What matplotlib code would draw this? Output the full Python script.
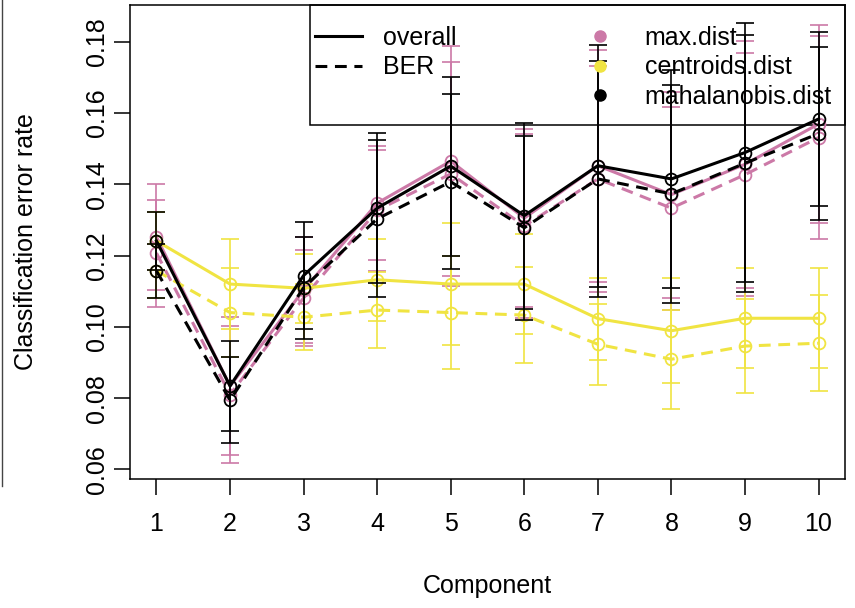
### perf plot: classification error rate per component

import matplotlib.pyplot as plt
from matplotlib.lines import Line2D
from matplotlib.patches import Rectangle

plt.rcParams['font.family'] = ['Liberation Sans', 'DejaVu Sans']
plt.rcParams['lines.scale_dashes'] = False

comps = [1, 2, 3, 4, 5, 6, 7, 8, 9, 10]

# max.dist
max_overall = [0.1252, 0.0834, 0.1103, 0.1347, 0.1465, 0.1305, 0.1452, 0.1371, 0.1456, 0.1569]
max_overall_sd = [0.0149, 0.0194, 0.0148, 0.0159, 0.0323, 0.0250, 0.0325, 0.0289, 0.0347, 0.0278]
max_ber = [0.1207, 0.0810, 0.1081, 0.1327, 0.1429, 0.1283, 0.1415, 0.1333, 0.1427, 0.1531]
max_ber_sd = [0.0150, 0.0191, 0.0135, 0.0169, 0.0314, 0.0258, 0.0317, 0.0285, 0.0340, 0.0285]

# centroids.dist
cent_overall = [0.1241, 0.1120, 0.1108, 0.1132, 0.1120, 0.1120, 0.1023, 0.0989, 0.1024, 0.1024]
cent_overall_sd = [0.0081, 0.0127, 0.0097, 0.0115, 0.0170, 0.0140, 0.0115, 0.0148, 0.0140, 0.0140]
cent_ber = [0.1157, 0.1040, 0.1027, 0.1047, 0.1040, 0.1033, 0.0951, 0.0909, 0.0946, 0.0954]
cent_ber_sd = [0.0076, 0.0125, 0.0092, 0.0107, 0.0158, 0.0134, 0.0114, 0.0139, 0.0133, 0.0134]

# mahalanobis.dist
mahal_overall = [0.1241, 0.0834, 0.1144, 0.1333, 0.1451, 0.1312, 0.1452, 0.1415, 0.1489, 0.1583]
mahal_overall_sd = [0.0081, 0.0125, 0.0150, 0.0210, 0.0251, 0.0261, 0.0339, 0.0306, 0.0363, 0.0245]
mahal_ber = [0.1157, 0.0794, 0.1110, 0.1303, 0.1407, 0.1278, 0.1415, 0.1373, 0.1459, 0.1542]
mahal_ber_sd = [0.0076, 0.0121, 0.0143, 0.0220, 0.0245, 0.0258, 0.0331, 0.0306, 0.0360, 0.0242]

dist_names = ['max.dist', 'centroids.dist', 'mahalanobis.dist']
dist_colors = ['#CC79A7', '#F0E442', 'black']
measure_names = ['overall', 'BER']
yticks = [0.06, 0.08, 0.10, 0.12, 0.14, 0.16, 0.18]

series = [
    [(max_overall, max_overall_sd), (max_ber, max_ber_sd)],
    [(cent_overall, cent_overall_sd), (cent_ber, cent_ber_sd)],
    [(mahal_overall, mahal_overall_sd), (mahal_ber, mahal_ber_sd)],
]
dash = (8.5, 5.5)

fig = plt.figure(figsize=(8.55, 6.08), dpi=100)
ax = fig.add_axes([130 / 855, 1 - 479 / 608, 715 / 855, 474 / 608])

for col, pair in zip(dist_colors, series):
    for k, (mean, sd) in enumerate(pair):
        ax.errorbar(comps, mean, yerr=sd, fmt='none', ecolor=col,
                    elinewidth=1.2, capsize=6.5, capthick=1.2)
        ln, = ax.plot(comps, mean, color=col, lw=2.2, marker='o',
                      mfc='none', mec=col, ms=8.5, mew=1.3)
        if k == 1:
            ln.set_dashes(dash)

ax.set_xlim(0.64, 10.36)
ax.set_ylim(0.0573, 0.1903)
ax.set_xticks(comps)
ax.set_yticks(yticks)
ax.set_yticklabels(['%.2f' % v for v in yticks])
for lab in ax.get_yticklabels():
    lab.set_rotation(90)
    lab.set_va('center')

ax.tick_params(direction='out', length=11.5, width=1.1, labelsize=18, color='black')
ax.tick_params(axis='x', pad=12.5)
ax.tick_params(axis='y', pad=3.4)
for s in ax.spines.values():
    s.set_linewidth(1.1)
    s.set_color('black')

ax.set_xlabel('Component', fontsize=18)
ax.set_ylabel('Classification error rate', fontsize=18)
ax.xaxis.set_label_coords(0.5, -0.2)
ax.yaxis.set_label_coords(-0.1287, 0.5)

# legend: line types in the first column, distances in the second
handles = [Line2D([], [], color='black', lw=2.2),
           Line2D([], [], color='black', lw=2.2, dashes=dash),
           Line2D([], [], color='none')]
labels = measure_names + ['']
for name, col in zip(dist_names, dist_colors):
    handles.append(Line2D([], [], color=col, marker='o', ls='none', ms=8))
    labels.append(name)

leg = ax.legend(handles, labels, ncol=2, loc='upper left',
                bbox_to_anchor=((315 - 130) / 715, (479 - 26) / 474),
                borderaxespad=0, borderpad=0, fontsize=18, handlelength=1.88,
                handletextpad=0.84, columnspacing=4.8, labelspacing=0.22,
                frameon=False)

# legend box, R style: sits in the top right corner of the plot region
ax.add_patch(Rectangle(((310 - 130) / 715, (479 - 125) / 474),
                       (845 - 310) / 715, 120 / 474, transform=ax.transAxes,
                       fill=False, edgecolor='black', lw=1.1, clip_on=False))

# thin border line on the far left of the picture
fig.add_artist(Line2D([1.5 / 855, 1.5 / 855], [1, 1 - 486 / 608],
                      transform=fig.transFigure, color='#444444', lw=1))

plt.savefig('out.png', dpi=100)
